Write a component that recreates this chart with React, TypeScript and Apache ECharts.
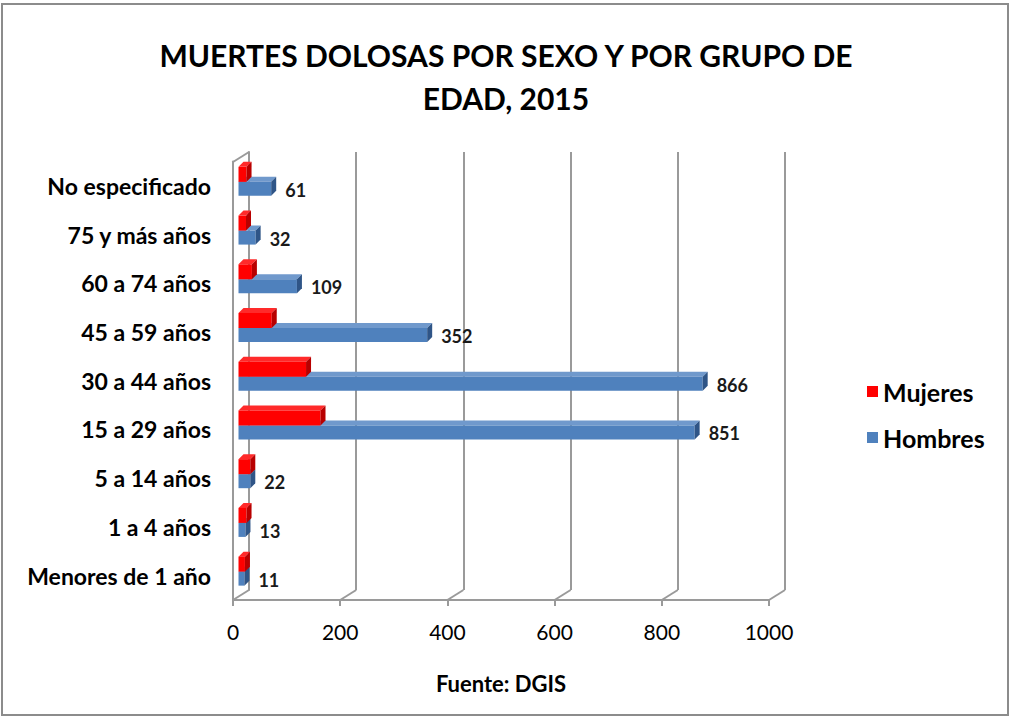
import React, { useEffect, useRef } from "react";
import * as echarts from "echarts";

const categories = [
  "Menores de 1 año",
  "1 a 4 años",
  "5 a 14 años",
  "15 a 29 años",
  "30 a 44 años",
  "45 a 59 años",
  "60 a 74 años",
  "75 y más años",
  "No especificado",
];
const mujeres = [12, 15, 22, 153, 126, 62, 25, 14, 15];
const hombres = [11, 13, 22, 851, 866, 352, 109, 32, 61];
const xTicks = [0, 200, 400, 600, 800, 1000];

const FONT = "Lato";
const GRID_COLOR = "#9a9a9a";

function makeBarRender(colors: { front: string; top: string; side: string }, y0: number, y1: number, withLabel: boolean) {
  return (params: any, api: any) => {
    const val = api.value(0);
    const idx = api.value(1);
    const x0 = api.coord([0, idx])[0];
    const p = api.coord([val, idx]);
    const x1 = p[0];
    const yc = p[1];
    const top = yc + y0;
    const bot = yc + y1;
    const d = 5;
    const children: any[] = [
      {
        type: "polygon",
        shape: { points: [[x0, top], [x1, top], [x1 + d, top - d], [x0 + d, top - d]] },
        style: { fill: colors.top },
      },
      {
        type: "rect",
        shape: { x: x0, y: top, width: x1 - x0, height: bot - top },
        style: { fill: colors.front },
      },
      {
        type: "polygon",
        shape: { points: [[x1, top], [x1 + d, top - d], [x1 + d, bot - d], [x1, bot]] },
        style: { fill: colors.side },
      },
    ];
    if (withLabel) {
      children.push({
        type: "text",
        style: {
          x: x1 + d + 9,
          y: (top + bot) / 2 + 1,
          text: String(val),
          fill: "#1a1a1a",
          font: `bold 18px ${FONT}`,
          textVerticalAlign: "middle",
          textAlign: "left",
        },
      });
    }
    return { type: "group", children };
  };
}

export default function App() {
  const ref = useRef<HTMLDivElement>(null);
  useEffect(() => {
    if (!ref.current) return;
    const chart = echarts.init(ref.current, undefined, { renderer: "svg" });
    const option: any = {
      animation: false,
      backgroundColor: "#ffffff",
      title: {
        text: "MUERTES DOLOSAS POR SEXO Y POR GRUPO DE\nEDAD, 2015",
        left: "center",
        top: 28,
        textStyle: { fontFamily: FONT, fontSize: 30, fontWeight: "bold", color: "#000", lineHeight: 43, align: "center" },
      },
      legend: {
        data: ["Mujeres", "Hombres"],
        orient: "vertical",
        left: 862,
        top: 374,
        itemWidth: 11,
        itemHeight: 11,
        itemGap: 21,
        icon: "rect",
        textStyle: { fontFamily: FONT, fontSize: 25, fontWeight: "bold", color: "#000" },
      },
      graphic: [
        {
          type: "rect",
          shape: { x: 2, y: 4, width: 1006, height: 711 },
          style: { fill: "none", stroke: "#8c8c8c", lineWidth: 2 },
          silent: true,
        },
      ],
      grid: [
        { left: 233, top: 161.5, width: 536, height: 438.5 },
        { left: 238.5, top: 161.5, width: 536, height: 438.5 },
        { left: 249, top: 152, width: 536, height: 438 },
      ],
      xAxis: [
        {
          gridIndex: 0,
          type: "value",
          min: 0,
          max: 1000,
          interval: 200,
          axisLine: { show: true, lineStyle: { color: GRID_COLOR, width: 2 } },
          axisTick: { show: true, length: 6, lineStyle: { color: GRID_COLOR, width: 2 } },
          splitLine: { show: false },
          axisLabel: {
            fontFamily: FONT,
            fontSize: 21,
            color: "#000",
            margin: 21,
            formatter: (v: number) => String(v),
          },
          name: "Fuente: DGIS",
          nameLocation: "middle",
          nameGap: 72,
          nameTextStyle: { fontFamily: FONT, fontSize: 22, fontWeight: "bold", color: "#000" },
        },
        { gridIndex: 1, type: "value", min: 0, max: 1000, show: false },
        {
          gridIndex: 2,
          type: "value",
          min: 0,
          max: 1000,
          interval: 200,
          axisLine: { show: false },
          axisTick: { show: false },
          axisLabel: { show: false },
          splitLine: { show: true, lineStyle: { color: GRID_COLOR, width: 2 } },
        },
      ],
      yAxis: [
        {
          gridIndex: 0,
          type: "category",
          data: categories,
          axisLine: { show: true, lineStyle: { color: GRID_COLOR, width: 2 } },
          axisTick: { show: false },
          axisLabel: { fontFamily: FONT, fontSize: 23, fontWeight: "bold", color: "#000", margin: 22 },
        },
        { gridIndex: 1, type: "category", data: categories, show: false },
        {
          gridIndex: 2,
          type: "value",
          min: 0,
          max: 1,
          axisLine: { show: true, lineStyle: { color: GRID_COLOR, width: 2 } },
          axisTick: { show: false },
          axisLabel: { show: false },
          splitLine: { show: false },
        },
      ],
      series: [
        {
          type: "custom",
          name: "walls",
          xAxisIndex: 2,
          yAxisIndex: 2,
          silent: true,
          data: xTicks.map((v) => [v, 0]),
          renderItem: (params: any, api: any) => {
            const v = api.value(0);
            const b = api.coord([v, 0]);
            const t = api.coord([v, 1]);
            const children: any[] = [
              {
                type: "line",
                shape: { x1: b[0], y1: b[1], x2: b[0] - 16, y2: b[1] + 10 },
                style: { stroke: GRID_COLOR, lineWidth: 2 },
              },
            ];
            if (v === 0) {
              children.push({
                type: "line",
                shape: { x1: t[0], y1: t[1], x2: t[0] - 16, y2: t[1] + 10 },
                style: { stroke: GRID_COLOR, lineWidth: 2 },
              });
            }
            return { type: "group", children };
          },
        },
        {
          type: "custom",
          name: "Hombres",
          xAxisIndex: 1,
          yAxisIndex: 1,
          itemStyle: { color: "#4F81BD" },
          data: hombres.map((v, i) => [v, i]),
          renderItem: makeBarRender({ front: "#4F81BD", top: "#7099CC", side: "#2F5587" }, -4, 10, true),
        },
        {
          type: "custom",
          name: "Mujeres",
          xAxisIndex: 1,
          yAxisIndex: 1,
          itemStyle: { color: "#FF0000" },
          data: mujeres.map((v, i) => [v, i]),
          renderItem: makeBarRender({ front: "#FF0000", top: "#FF2A2A", side: "#B80000" }, -19, -4, false),
        },
      ],
    };
    chart.setOption(option);
    return () => chart.dispose();
  }, []);
  return <div ref={ref} style={{ position: "absolute", left: 0, top: 0, width: 1012, height: 719 }} />;
}
